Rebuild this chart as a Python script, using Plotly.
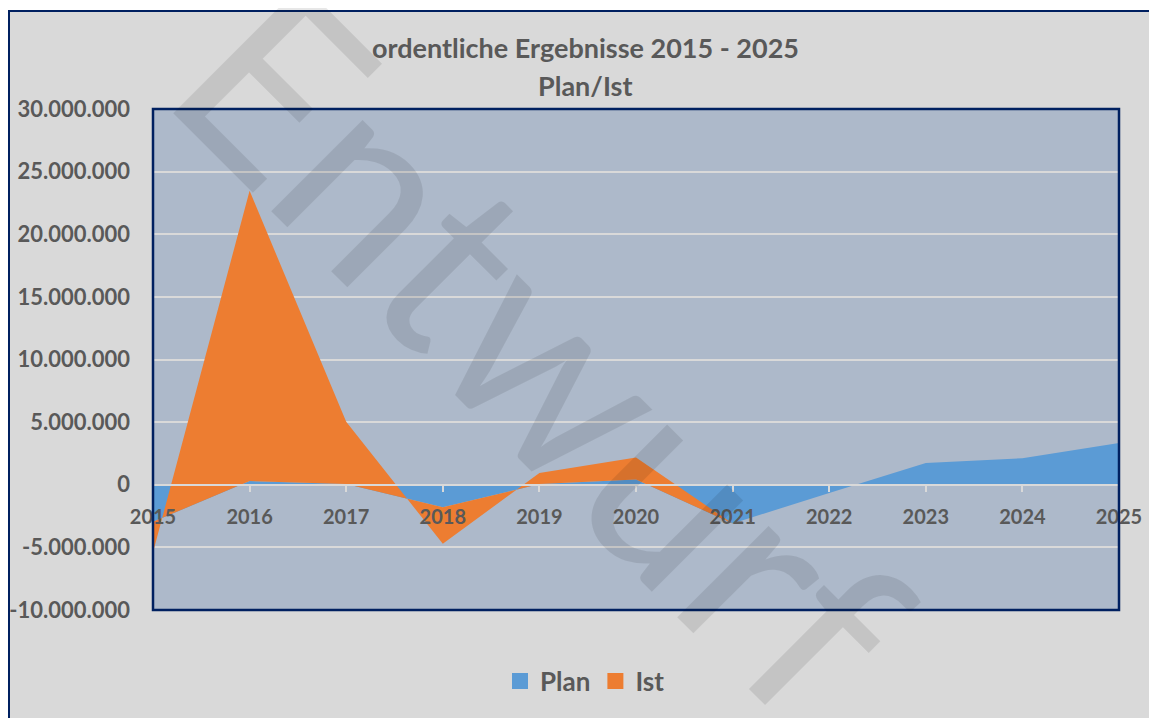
import plotly.graph_objects as go

# ---------------- data ----------------
years = [2015, 2016, 2017, 2018, 2019, 2020, 2021, 2022, 2023, 2024, 2025]
plan = [-2960000, 300000, 50000, -1800000, 50000, 420000, -3100000, -650000, 1740000, 2120000, 3340000]
ist = [-2440000, 23170000, 4970000, -2910000, 890000, 1750000, 0, 0, 0, 0, 0]
series_names = ["Plan", "Ist"]
y_tick_values = [-10000000, -5000000, 0, 5000000, 10000000, 15000000, 20000000, 25000000, 30000000]
y_tick_labels = ["-10.000.000", "-5.000.000", "0", "5.000.000", "10.000.000",
                 "15.000.000", "20.000.000", "25.000.000", "30.000.000"]
x_tick_labels = ["2015", "2016", "2017", "2018", "2019", "2020", "2021", "2022", "2023", "2024", "2025"]
title_line1 = "ordentliche Ergebnisse 2015 - 2025"
title_line2 = "Plan/Ist"
watermark_text = "Entwurf"

# ---------------- layout helpers ----------------
# the page places the figure 8px from the top-left corner of the window
OFF = 8
W, H = 1157 - OFF, 718 - OFF
# plot area on screen: x 153..1119, y 109..610
ML, MR, MT, MB = 153 - OFF, W - (1119 - OFF), 109 - OFF, H - (610 - OFF)
PW, PH = W - ML - MR, H - MT - MB


def px(X):
    """screen x -> paper fraction"""
    return (X - OFF - ML) / PW


def py(Y):
    """screen y -> paper fraction"""
    return (H - MB - (Y - OFF)) / PH


BLUE = "#5B9BD5"
ORANGE = "#ED7D31"
NAVY = "#002060"
TXT = "#595959"
GRID = "#D9D9D9"
FONT = "Lato"

fig = go.Figure()
fig.add_trace(go.Scatter(x=years, y=plan, name=series_names[0], stackgroup="one", mode="none",
                         fillcolor=BLUE, showlegend=False, hoverinfo="skip"))
fig.add_trace(go.Scatter(x=years, y=ist, name=series_names[1], stackgroup="one", mode="none",
                         fillcolor=ORANGE, showlegend=False, hoverinfo="skip"))
# legend entries as squares
for nm, col in zip(series_names, [BLUE, ORANGE]):
    fig.add_trace(go.Scatter(x=[None], y=[None], mode="markers", name=nm,
                             marker=dict(symbol="square", size=16, color=col)))

shapes = [
    # white strip above the chart area
    dict(type="rect", xref="paper", yref="paper", x0=px(0), x1=px(1170), y0=py(10), y1=py(0),
         fillcolor="white", line=dict(width=0), layer="above"),
    # outer border (top + left)
    dict(type="line", xref="paper", yref="paper", x0=px(8), x1=px(1170), y0=py(11), y1=py(11),
         line=dict(color=NAVY, width=2), layer="above"),
    dict(type="line", xref="paper", yref="paper", x0=px(9), x1=px(9), y0=py(11), y1=py(730),
         line=dict(color=NAVY, width=2), layer="above"),
    # plot area border
    dict(type="rect", xref="x domain", yref="y domain", x0=0, x1=1, y0=0, y1=1,
         line=dict(color=NAVY, width=2.5), layer="above"),
]

annotations = [
    dict(text=title_line1, x=px(585), y=py(48), xref="paper", yref="paper", showarrow=False,
         xanchor="center", yanchor="middle", font=dict(family=FONT, size=27, color=TXT, weight="bold")),
    dict(text=title_line2, x=px(585), y=py(85), xref="paper", yref="paper", showarrow=False,
         xanchor="center", yanchor="middle", font=dict(family=FONT, size=27, color=TXT, weight="bold")),
    dict(text=watermark_text, x=px(545), y=py(345), xref="paper", yref="paper", showarrow=False,
         xanchor="center", yanchor="middle", textangle=45,
         font=dict(family=FONT, size=255, color="rgba(0,0,0,0.095)")),
]

fig.update_layout(
    template="none",
    width=W, height=H,
    margin=dict(l=ML, r=MR, t=MT, b=MB, autoexpand=False),
    paper_bgcolor="#D9D9D9",
    plot_bgcolor="#ADB9CA",
    showlegend=True,
    legend=dict(orientation="h", x=px(585), y=py(681), xanchor="center", yanchor="middle",
                font=dict(family=FONT, size=26, color=TXT, weight="bold"),
                bgcolor="rgba(0,0,0,0)", traceorder="normal", itemwidth=30),
    shapes=shapes,
    annotations=annotations,
    xaxis=dict(range=[2015, 2025], tickvals=years, ticktext=x_tick_labels,
               anchor="free", position=0.25, showgrid=False, zeroline=False,
               showline=True, linecolor=GRID, linewidth=2,
               ticks="outside", ticklen=6, tickwidth=2, tickcolor=GRID,
               ticklabelstandoff=8,
               tickfont=dict(family=FONT, size=20, color=TXT, weight="bold"),
               automargin=False, fixedrange=True),
    yaxis=dict(range=[-10000000, 30000000], tickvals=y_tick_values, ticktext=y_tick_labels,
               showgrid=True, gridcolor=GRID, gridwidth=2, zeroline=False, showline=False,
               ticks="", ticklabelstandoff=22,
               tickfont=dict(family=FONT, size=22, color=TXT, weight="bold"),
               automargin=False, fixedrange=True),
)

fig.write_html("out.html")
